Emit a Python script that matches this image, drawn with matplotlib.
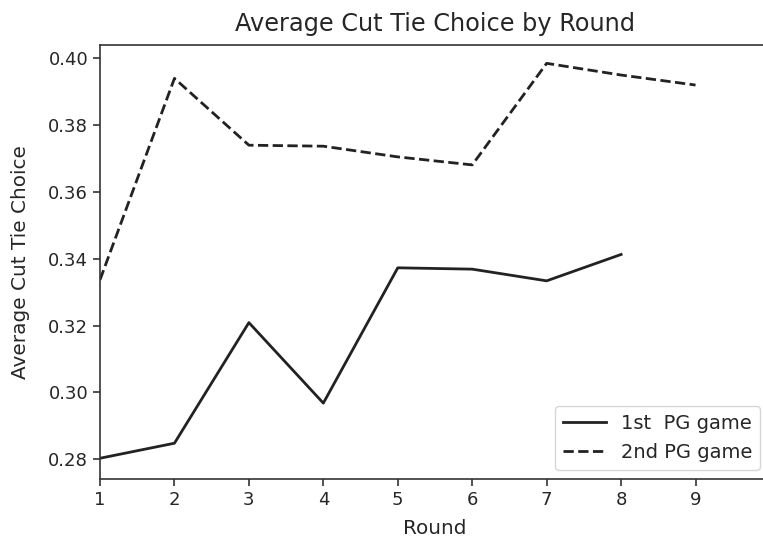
import matplotlib
matplotlib.use("Agg")
import matplotlib.pyplot as plt

rounds_first = [1, 2, 3, 4, 5, 6, 7, 8]
first_game = [0.2803, 0.2848, 0.3209, 0.2968, 0.3373, 0.3369, 0.3334, 0.3413]

rounds_second = [1, 2, 3, 4, 5, 6, 7, 8, 9]
second_game = [0.3337, 0.3940, 0.3740, 0.3737, 0.3705, 0.3681, 0.3985, 0.3950, 0.3920]

text_color = "#262626"
plt.rcParams["font.family"] = ["DejaVu Sans"]

fig = plt.figure(figsize=(7.63, 5.41), dpi=100)
ax = fig.add_axes([100 / 763, 1 - 479.3 / 541, 670 / 763, (479.3 - 45.3) / 541])

ax.plot(rounds_first, first_game, color="#222222", linestyle="-", linewidth=2.0, label="1st  PG game")
ax.plot(rounds_second, second_game, color="#222222", linestyle="--", linewidth=2.0, label="2nd PG game")

ax.set_xlim(1, 10)
ax.set_ylim(0.274, 0.4039)
ax.set_xticks(range(1, 10))
ax.set_yticks([0.28, 0.30, 0.32, 0.34, 0.36, 0.38, 0.40])
ax.set_yticklabels(["0.28", "0.30", "0.32", "0.34", "0.36", "0.38", "0.40"])

for s in ax.spines.values():
    s.set_color("#333333")
    s.set_linewidth(1.2)
ax.tick_params(colors="#333333", labelcolor=text_color, labelsize=13, length=5, width=1.2)

ax.set_title("Average Cut Tie Choice by Round", fontsize=17.3, color=text_color, pad=10)
ax.set_xlabel("Round", fontsize=14.4, color=text_color, labelpad=7)
ax.set_ylabel("Average Cut Tie Choice", fontsize=14.4, color=text_color, labelpad=13)

leg = ax.legend(loc="lower right", fontsize=14, frameon=True, fancybox=True, handlelength=2.2)
leg.get_frame().set_edgecolor("#cccccc")
for t in leg.get_texts():
    t.set_color(text_color)

fig.savefig("out.png", dpi=100)
